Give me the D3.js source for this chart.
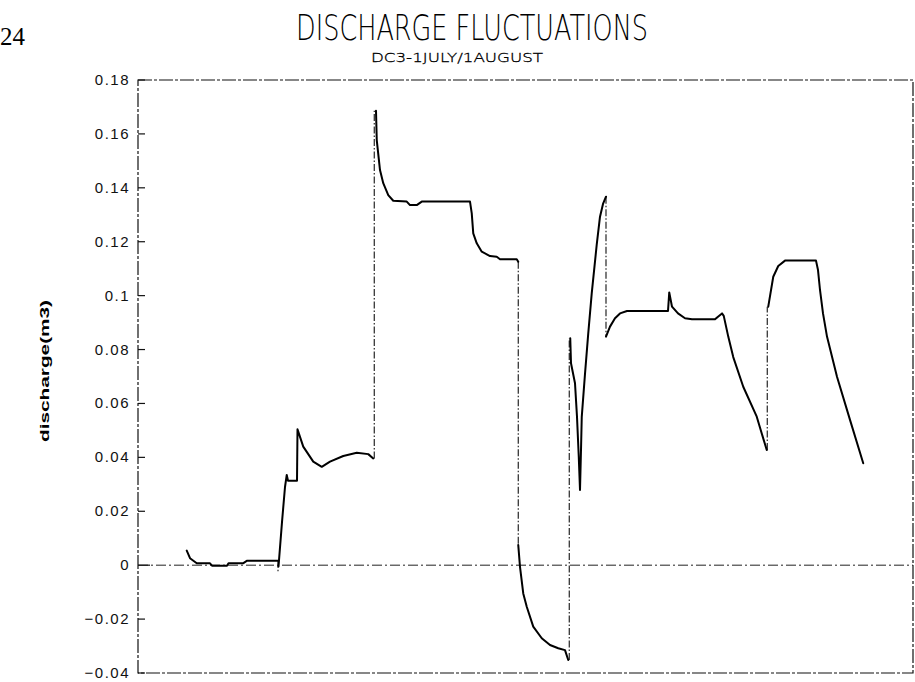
<!DOCTYPE html>
<meta charset="utf-8">
<style>
    body { margin: 0; background: #fff; }
    .curve { fill: none; stroke: #000; stroke-width: 2; stroke-linejoin: round; stroke-linecap: round; }
    .jump { fill: none; stroke: #111; stroke-width: 1.1; stroke-dasharray: 7,2,1.5,2; }
    .frame { fill: none; stroke: #111; stroke-width: 1.2; stroke-dasharray: 14,2,3,2; }
    .zero { fill: none; stroke: #222; stroke-width: 1; stroke-dasharray: 10,3,2,3; }
    .tick { stroke: #111; stroke-width: 1.2; }
    .ticklabel { font: 15px "Liberation Sans", Arial, sans-serif; letter-spacing: 1.5px; fill: #111; }
</style>

<body>
    <script src="https://d3js.org/d3.v7.min.js"></script>
    <script>
        // days since 1 July, discharge in m3
        var seg1 = [[1.95, .0054], [2.08, .0026], [2.35, .0007], [2.88, .0007], [2.96, -.0002], [3.56, -.0002],
            [3.62, .0007], [4.2, .0007], [4.35, .0016], [5.6, .0016]];
        var seg2 = [[5.62, -.0005], [5.76, .016], [5.88, .029], [5.95, .0335], [6.0, .0313], [6.36, .0313],
            [6.38, .0504], [6.61, .044], [7.01, .0384], [7.35, .0365], [7.68, .0384], [8.21, .0405],
            [8.75, .0417], [9.21, .0412], [9.41, .0396]];
        var seg3 = [[9.52, .1686], [9.55, .1577], [9.68, .1466], [9.81, .1417], [10.01, .1373], [10.21, .1352],
            [10.75, .1349], [10.88, .1336], [11.15, .1336], [11.35, .1349], [13.28, .1349], [13.35, .1305],
            [13.41, .1231], [13.55, .1194], [13.75, .1163], [14.08, .1147], [14.35, .1144], [14.48, .1135],
            [15.15, .1135], [15.21, .1126]];
        var seg4 = [[15.21, .0075], [15.28, -.0006], [15.41, -.0105], [15.55, -.0154], [15.81, -.0228],
            [16.15, -.0271], [16.48, -.0296], [16.81, -.0308], [17.08, -.0315], [17.21, -.0352]];
        var seg5 = [[17.29, .0842], [17.32, .0749], [17.48, .0675], [17.56, .055], [17.63, .0403], [17.68, .0279],
            [17.72, .0427], [17.75, .055], [17.88, .071], [18.01, .086], [18.15, .1009], [18.35, .119],
            [18.48, .1293], [18.6, .134], [18.72, .1367]];
        var seg6 = [[18.72, .0848], [18.88, .0885], [19.08, .0916], [19.28, .0934], [19.56, .0943], [21.2, .0943],
            [21.25, .1012], [21.36, .0959], [21.6, .0934], [21.88, .0916], [22.16, .0912], [23.08, .0912],
            [23.2, .0922], [23.36, .0934], [23.43, .0925], [23.61, .0848], [23.81, .0772], [24.21, .0662],
            [24.75, .0551], [25.15, .0427]];
        var seg7 = [[25.21, .0959], [25.41, .107], [25.61, .111], [25.88, .113], [27.12, .113], [27.2, .1095],
            [27.28, .1021], [27.4, .0934], [27.56, .0848], [27.96, .0699], [28.48, .0539], [29.01, .0378]];
        var segments = [seg1, seg2, seg3, seg4, seg5, seg6, seg7];

        // vertical dash-dot joins: [day, from, to]
        var jumps = [[5.6, .0016, -.0028], [9.45, .0396, .1686], [15.21, .1126, .0075],
            [17.25, -.0352, .0842], [18.72, .1367, .0848], [25.17, .0427, .0959]];

        var yTicks = [-0.04, -0.02, 0, 0.02, 0.04, 0.06, 0.08, 0.1, 0.12, 0.14, 0.16, 0.18];
        var tDomain = [0, 31];
        var qDomain = [-0.04, 0.18];

        var width = 915, height = 682;
        var margin = { top: 80, right: 2, bottom: 9, left: 138 };

        var svg = d3.select("body").append("svg")
            .attr("width", width)
            .attr("height", height);

        var x = d3.scaleLinear().domain(tDomain).range([margin.left, width - margin.right]);
        var y = d3.scaleLinear().domain(qDomain).range([height - margin.bottom, margin.top]);

        // page number and titles
        svg.append("text")
            .attr("x", 0).attr("y", 45)
            .style("font", "25px 'Liberation Serif', serif")
            .text("24");

        svg.append("text")
            .attr("x", 472).attr("y", 40)
            .attr("text-anchor", "middle")
            .attr("textLength", 352)
            .attr("lengthAdjust", "spacingAndGlyphs")
            .style("font", "200 35px 'DejaVu Sans', sans-serif")
            .text("DISCHARGE FLUCTUATIONS");

        svg.append("text")
            .attr("x", 457).attr("y", 62)
            .attr("text-anchor", "middle")
            .attr("textLength", 172)
            .attr("lengthAdjust", "spacingAndGlyphs")
            .style("font", "200 13px 'DejaVu Sans', sans-serif")
            .style("stroke", "#000").style("stroke-width", 0.3)
            .text("DC3-1JULY/1AUGUST");

        svg.append("text")
            .attr("transform", "translate(49," + 371 + ") rotate(-90)")
            .attr("text-anchor", "middle")
            .attr("textLength", 142)
            .attr("lengthAdjust", "spacingAndGlyphs")
            .style("font", "bold 12px 'Liberation Sans', Arial, sans-serif")
            .text("discharge(m3)");

        // frame
        svg.append("rect")
            .attr("class", "frame")
            .attr("x", x(tDomain[0])).attr("y", y(qDomain[1]))
            .attr("width", x(tDomain[1]) - x(tDomain[0]))
            .attr("height", y(qDomain[0]) - y(qDomain[1]));

        // zero line
        svg.append("line")
            .attr("class", "zero")
            .attr("x1", x(tDomain[0])).attr("x2", x(tDomain[1]))
            .attr("y1", y(0)).attr("y2", y(0));

        // y axis ticks, pointing inward
        var yAxis = svg.append("g");
        yAxis.selectAll("line")
            .data(yTicks)
            .enter().append("line")
            .attr("class", "tick")
            .attr("x1", x(tDomain[0]))
            .attr("x2", function (d) { return x(tDomain[0]) + (d === 0 ? 12 : 7); })
            .attr("y1", d => y(d)).attr("y2", d => y(d));

        yAxis.selectAll("text")
            .data(yTicks)
            .enter().append("text")
            .attr("class", "ticklabel")
            .attr("x", x(tDomain[0]) - 8)
            .attr("y", d => y(d) + 5)
            .attr("text-anchor", "end")
            .text(function (d) {
                var s = d3.format("")(+d.toFixed(2));
                return s.replace("-", "\u2212");
            });

        // jumps
        svg.append("g")
            .selectAll("line")
            .data(jumps)
            .enter().append("line")
            .attr("class", "jump")
            .attr("x1", d => x(d[0])).attr("x2", d => x(d[0]))
            .attr("y1", d => y(d[1])).attr("y2", d => y(d[2]));

        // discharge curve
        var line = d3.line()
            .x(d => x(d[0]))
            .y(d => y(d[1]));

        svg.append("g")
            .selectAll("path")
            .data(segments)
            .enter().append("path")
            .attr("class", "curve")
            .attr("d", line);
    </script>
</body>
